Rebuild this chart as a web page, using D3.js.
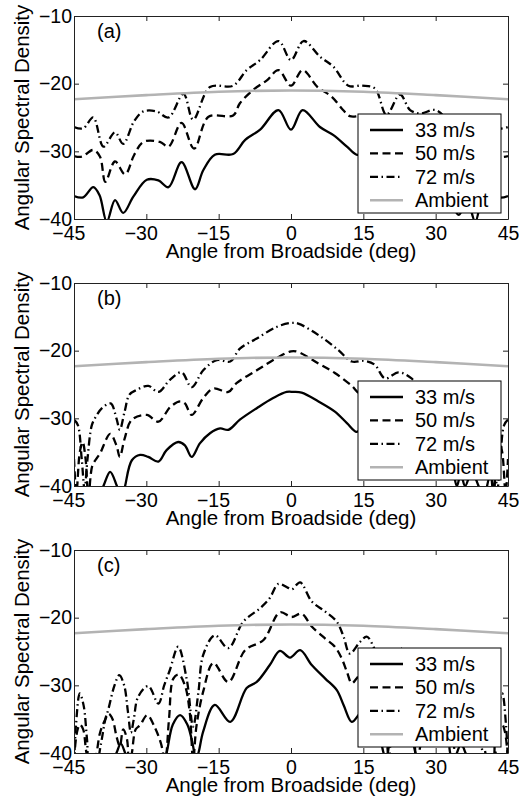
<!DOCTYPE html>
<html>
<head>
<meta charset="utf-8">
<script src="https://cdn.jsdelivr.net/npm/d3@7"></script>
<style>
  body { margin: 0; background: #fff; }
  svg { display: block; font-family: "Liberation Sans", Arial, Helvetica, sans-serif; }
</style>
</head>
<body>
<svg id="chart" width="519" height="804"></svg>
<script>
// Tick values and labels
const xTicks = [-45, -30, -15, 0, 15, 30, 45];
const yTicks = [-10, -20, -30, -40];
const seriesNames = ["33 m/s", "50 m/s", "72 m/s", "Ambient"];
const panelLabels = ["(a)", "(b)", "(c)"];

// Ambient level, same for every panel  [angle, dB]
const ambient = [[-45, -22.3], [-30, -21.7], [-15, -21.2], [0, -21.0], [15, -21.2], [30, -21.7], [45, -22.3]];

// Panel (a)
const a33 = [[-45, -36.6], [-43.1, -36.8], [-41, -35.3], [-39.7, -36.5], [-38.2, -40.4], [-36.5, -37.2], [-34.8, -39.1],
  [-32.7, -36.7], [-29.9, -34.2], [-27.5, -34.3], [-25.4, -35.3], [-22.7, -31.6], [-19.9, -35.6], [-18.2, -32.8],
  [-15.8, -30.5], [-12, -30.4], [-9.5, -28.3], [-6.4, -26.8], [-2.6, -23.9], [0, -26.8], [2.4, -23.9], [6, -26.4],
  [8.8, -27.6], [11.6, -29.3], [13.6, -30.5], [15.8, -30.5], [18.2, -32.8], [19.9, -35.6], [22.7, -31.6], [25.4, -35.3],
  [27.5, -34.3], [29.9, -34.2], [32.7, -36.7], [34.8, -39.4], [36.5, -37.2], [38.2, -40.4], [39.7, -36.5], [41, -35.3],
  [43.1, -36.8], [45, -36.6]];
const a50 = [[-45, -30.7], [-43.4, -30.8], [-41, -29.8], [-39.6, -30.8], [-38.5, -34.5], [-36.5, -31.5], [-34.4, -33.4],
  [-32.5, -30.5], [-30.6, -28.6], [-27.2, -28.6], [-25.4, -29.3], [-22.7, -25.8], [-20.1, -29.6], [-17.1, -24.9],
  [-12, -24.7], [-10.6, -22.9], [-7.8, -20.9], [-5, -19.5], [-2.6, -18.0], [0, -20.3], [2.4, -18.0], [5.5, -20.5],
  [8.4, -21.9], [10.8, -23.9], [12.2, -24.8], [14.3, -24.8], [17.1, -24.9], [20.1, -29.6], [22.7, -25.8], [25.4, -29.3],
  [27.2, -28.6], [30.6, -28.6], [32.5, -30.5], [34.4, -33.4], [36.5, -31.5], [38.5, -34.5], [39.6, -30.8], [41, -29.8],
  [43.4, -30.8], [45, -30.7]];
const a72 = [[-45, -26.4], [-43.1, -26.6], [-41, -25.0], [-38.9, -29.3], [-36.5, -27.2], [-34.8, -28.9], [-32.5, -25.5],
  [-30.6, -24.1], [-27.9, -24.1], [-25.4, -25.0], [-22.3, -21.5], [-20.3, -25.3], [-16.8, -20.5], [-12, -20.3],
  [-9.2, -18.0], [-6.4, -16.5], [-2.6, -13.7], [0, -16.5], [2.6, -13.7], [6, -16.0], [8.8, -17.5], [11.9, -20.3],
  [14.7, -20.3], [17.4, -20.7], [19.8, -24.6], [22.6, -21.6], [24.7, -23.9], [26.8, -24.4], [29.9, -23.9], [32.5, -25.5],
  [34.8, -28.9], [36.5, -27.2], [38.9, -29.3], [41, -25.0], [43.1, -26.6], [45, -26.4]];

// Panel (b)
const b33 = [[-45, -42], [-43, -43], [-40, -41.5], [-38.9, -40], [-37.5, -37.9], [-36.1, -40], [-35, -42], [-34.4, -40],
  [-33, -36.2], [-31.3, -35.4], [-29.6, -35.7], [-27.5, -36.4], [-25.8, -34.7], [-23.4, -33.5], [-22, -34.0],
  [-20.6, -35.7], [-18.9, -33.7], [-16.8, -32.2], [-14.7, -31.5], [-13, -31.7], [-10.6, -30.2], [-7.1, -28.5],
  [-3.7, -27.0], [-0.9, -26.1], [0.5, -26.1], [2.2, -26.2], [5.7, -27.5], [9.1, -29.0], [11.6, -30.7], [13.6, -32.0],
  [14.7, -31.5], [16.8, -32.2], [18.9, -33.7], [20.6, -35.7], [22, -34.0], [23.4, -33.5], [25.8, -34.7], [27.5, -36.4],
  [29.6, -35.7], [31.3, -35.4], [33, -36.2], [34.4, -40], [35.2, -38.2], [36.1, -40], [37.5, -37.9], [38.9, -40],
  [40, -41.5], [41.3, -38.5], [42.5, -41], [45, -42]];
const b50 = [[-45, -36], [-44.5, -41], [-43.8, -35], [-43.2, -33.5], [-42.6, -36], [-42, -41.5], [-41.2, -37],
  [-40.2, -35.8], [-39.6, -35.2], [-37.5, -32.3], [-36.2, -34.0], [-35.5, -35.7], [-34.5, -33.0], [-33, -30.2],
  [-29.9, -29.5], [-27.5, -30.5], [-25, -28.3], [-23, -27.5], [-22, -27.8], [-20.6, -29.5], [-18.2, -27.0],
  [-16.1, -25.6], [-13, -26.1], [-11.3, -24.8], [-7.1, -22.9], [-3, -21.1], [0, -20.1], [1.5, -20.2], [5.7, -21.9],
  [9.1, -23.3], [12.6, -25.2], [14.3, -26.3], [16.1, -25.6], [18.2, -27.0], [20.6, -29.5], [22, -27.8], [23, -27.5],
  [25, -28.3], [27.5, -30.5], [29.9, -29.5], [33, -30.2], [34.5, -33.0], [35.5, -35.7], [36.2, -34.0], [37.5, -32.3],
  [39.6, -35.2], [40.2, -35.8], [41.2, -37], [42, -41.5], [42.6, -36], [43.2, -33.5], [43.8, -35], [44.5, -41], [45, -36]];
const b72 = [[-45, -30.2], [-44.2, -31], [-43.4, -36], [-42.8, -40.5], [-42.2, -36], [-41.3, -31], [-40.5, -29.8],
  [-39.2, -28.5], [-37.4, -27.8], [-36.2, -30.0], [-35.5, -31.7], [-34.5, -29.0], [-33.5, -26.5], [-32, -25.8],
  [-29.6, -25.2], [-27.5, -26.1], [-25.1, -24.3], [-22.7, -23.2], [-20.6, -25.4], [-18.2, -22.9], [-15.4, -21.4],
  [-12.6, -21.6], [-10.6, -19.7], [-7.1, -18.2], [-3, -16.5], [0, -15.9], [1.5, -16.0], [5.7, -17.7], [9.8, -19.9],
  [12.6, -21.6], [15.3, -21.5], [17.4, -22.1], [19.5, -24.1], [22.3, -23.2], [25, -24.1], [27.5, -26.1], [29.6, -25.2],
  [32, -25.8], [33.5, -26.5], [34.5, -29.0], [35.5, -31.7], [36.2, -30.0], [37.4, -27.8], [39.2, -28.5], [40.5, -29.8],
  [41.3, -31], [42.2, -36], [42.8, -40.5], [43.4, -36], [44.2, -31], [45, -30.2]];

// Panel (c)
const c33 = [[-45, -42], [-40, -42], [-37, -41], [-36.2, -40], [-35.3, -38.6], [-34.4, -40], [-33, -43], [-27, -43],
  [-25.8, -40], [-24.5, -35.8], [-23, -34.4], [-21.5, -35.8], [-20.3, -39], [-19.8, -41], [-19.2, -40], [-18.2, -36.8],
  [-15.8, -32.9], [-12.6, -35.4], [-9.2, -30.4], [-7.1, -29.5], [-4.4, -27.0], [-2.3, -24.9], [-0.2, -25.9],
  [1.9, -24.8], [4.3, -27.0], [7.1, -29.0], [9.5, -30.7], [10.9, -32.9], [12.6, -35.4], [14, -34.4], [15.8, -32.9],
  [18.2, -36.8], [19.2, -40], [19.8, -41], [20.3, -39], [21.5, -35.8], [23, -34.4], [24.5, -35.8], [25.8, -40],
  [27, -43], [33, -43], [34.4, -40], [35.3, -38.6], [36.2, -40], [37, -41], [45, -42]];
const c50 = [[-45, -41], [-44.4, -37], [-43.8, -35.8], [-43.1, -36.5], [-42.4, -40], [-41.5, -42], [-40.5, -40.5],
  [-39.6, -37], [-38.5, -35], [-37.8, -34.2], [-37, -35], [-36.2, -37.5], [-35.5, -39], [-34.8, -36.5], [-34, -38],
  [-33.6, -42], [-33, -40], [-32.2, -36.5], [-31.3, -35.9], [-29.8, -34.4], [-28.2, -36.3], [-27, -38.5], [-26.1, -41],
  [-25.3, -35], [-24.4, -29.0], [-23.3, -28.4], [-22, -30.0], [-21, -34], [-20.3, -41], [-19.6, -36], [-18.2, -30.9],
  [-16.1, -26.7], [-13, -29.5], [-9.5, -24.8], [-5.7, -23.3], [-2.3, -19.2], [0.1, -19.9], [2.2, -19.4], [4.3, -21.3],
  [7.1, -23.1], [9.1, -24.3], [10.5, -26.0], [11.6, -28.0], [12.6, -29.7], [13.6, -29.0], [16.1, -26.7], [18.2, -30.9],
  [19.6, -36], [20.3, -41], [21, -34], [22, -30.0], [23.3, -28.4], [24.4, -29.0], [25.3, -35], [26.1, -41], [27, -38.5],
  [28.2, -36.3], [29.8, -34.4], [31.3, -35.9], [32.2, -36.5], [33, -40], [33.6, -42], [34, -38], [34.8, -36.5],
  [35.5, -39], [36.2, -37.5], [37, -35], [37.8, -34.2], [38.5, -35], [39.6, -37], [40.5, -40.5], [41.5, -42],
  [42.4, -40], [43.1, -36.5], [43.8, -35.8], [44.4, -37], [45, -41]];
const c72 = [[-45, -42], [-44.6, -36], [-43.8, -31.2], [-43, -33], [-42.3, -38], [-41.7, -42], [-40.5, -42],
  [-39.5, -39], [-38.5, -35], [-37.9, -33.6], [-36.6, -30.0], [-35.6, -28.5], [-34.6, -30.0], [-33.8, -34],
  [-33.2, -37], [-32.6, -35], [-31.7, -31.7], [-29.6, -30.1], [-27.5, -32.7], [-26.3, -30.0], [-25.1, -27.7],
  [-23.4, -24.3], [-21.6, -29.2], [-20.3, -36.1], [-19.2, -31.0], [-18.2, -25.5], [-15.8, -22.6], [-13, -24.5],
  [-9.9, -20.6], [-6.4, -18.6], [-4.4, -17.1], [-2.6, -15.0], [-0.6, -15.6], [0.2, -15.8], [1.9, -14.8], [4.3, -17.6],
  [7.1, -19.1], [9.5, -20.6], [10.9, -22.8], [12.2, -25.3], [14.3, -23.6], [15.7, -22.8], [17.1, -24.3], [18.5, -28],
  [19.5, -35], [20.5, -30], [22.6, -24.4], [24.3, -28], [25.5, -27.7], [26.5, -30.0], [27.5, -32.7], [29.6, -30.1],
  [31.7, -31.7], [32.6, -35], [33.2, -37], [33.8, -34], [34.6, -30.0], [35.6, -28.5], [36.6, -30.0], [37.9, -33.6],
  [38.5, -35], [39.5, -39], [40.5, -42], [41.7, -42], [42.3, -38], [43, -33], [43.8, -31.2], [44.6, -36], [45, -42]];

const panels = [
  { label: panelLabels[0], series: [a33, a50, a72, ambient] },
  { label: panelLabels[1], series: [b33, b50, b72, ambient] },
  { label: panelLabels[2], series: [c33, c50, c72, ambient] }
];

// Layout
const left = 74, right = 508, plotH = 203;
const panelTops = [16, 283, 550];
const lineStyles = [
  { stroke: "#000", width: 2.3, dash: null },
  { stroke: "#000", width: 2.3, dash: "8,4.5" },
  { stroke: "#000", width: 2.3, dash: "8,3.5,1.5,3.5" },
  { stroke: "#b3b3b3", width: 2.6, dash: null }
];

const svg = d3.select("#chart");
svg.append("rect").attr("width", 519).attr("height", 804).attr("fill", "#fff");

const x = d3.scaleLinear().domain([-45, 45]).range([0, right - left]);
const y = d3.scaleLinear().domain([-40, -10]).range([plotH, 0]);
const line = d3.line()
  .x(d => x(d[0]))
  .y(d => y(d[1]))
  .curve(d3.curveCatmullRom.alpha(0.5));

panels.forEach((p, i) => {
  const g = svg.append("g").attr("transform", `translate(${left},${panelTops[i]})`);
  const w = right - left;

  // clip lines to the plot box
  g.append("clipPath").attr("id", "clip" + i)
    .append("rect").attr("width", w).attr("height", plotH);

  const lines = g.append("g").attr("clip-path", `url(#clip${i})`);
  p.series.forEach((s, k) => {
    const st = lineStyles[k];
    lines.append("path")
      .datum(s)
      .attr("d", line)
      .attr("fill", "none")
      .attr("stroke", st.stroke)
      .attr("stroke-width", st.width)
      .attr("stroke-dasharray", st.dash)
      .attr("stroke-linejoin", "round");
  });

  // axes, ticks pointing inward
  const xb = g.append("g").attr("transform", `translate(0,${plotH})`)
    .call(d3.axisBottom(x).tickValues(xTicks).tickSize(-5).tickSizeOuter(0).tickPadding(7.5));
  xb.selectAll("text")
    .attr("dx", d => d < 0 ? "-0.29em" : null);
  g.append("g")
    .call(d3.axisTop(x).tickValues(xTicks).tickSize(-5).tickSizeOuter(0).tickFormat(""));
  g.append("g")
    .call(d3.axisLeft(y).tickValues(yTicks).tickSize(-5).tickSizeOuter(0).tickPadding(2));
  g.append("g").attr("transform", `translate(${w},0)`)
    .call(d3.axisRight(y).tickValues(yTicks).tickSize(-5).tickSizeOuter(0).tickFormat(""));

  g.selectAll(".domain").attr("stroke", "#222").attr("stroke-width", 1);
  g.selectAll(".tick line").attr("stroke", "#222");
  g.selectAll(".tick text").attr("fill", "#000").style("font-size", "19.5px")
    .style("font-family", '"Liberation Sans", Arial, sans-serif');

  // panel tag
  g.append("text").attr("x", 23).attr("y", 21.5)
    .style("font-size", "20px").text(p.label);

  // axis titles
  g.append("text")
    .attr("x", w / 2).attr("y", plotH + 39)
    .attr("text-anchor", "middle")
    .style("font-size", "20.5px")
    .text("Angle from Broadside (deg)");
  g.append("text")
    .attr("transform", `translate(${29 - left},${plotH / 2}) rotate(-90)`)
    .attr("text-anchor", "middle")
    .style("font-size", "20.5px")
    .text("Angular Spectral Density");

  // legend
  const lg = g.append("g").attr("transform", `translate(${358 - left},98)`);
  lg.append("rect").attr("width", 143).attr("height", 99)
    .attr("fill", "#fff").attr("stroke", "#000").attr("stroke-width", 1);
  seriesNames.forEach((name, k) => {
    const st = lineStyles[k];
    const cy = 16 + k * 23.4;
    lg.append("line")
      .attr("x1", 12).attr("x2", 45).attr("y1", cy).attr("y2", cy)
      .attr("stroke", st.stroke).attr("stroke-width", st.width)
      .attr("stroke-dasharray", st.dash);
    lg.append("text").attr("x", 57).attr("y", cy + 7)
      .style("font-size", "20px").text(name);
  });
});
</script>
</body>
</html>
